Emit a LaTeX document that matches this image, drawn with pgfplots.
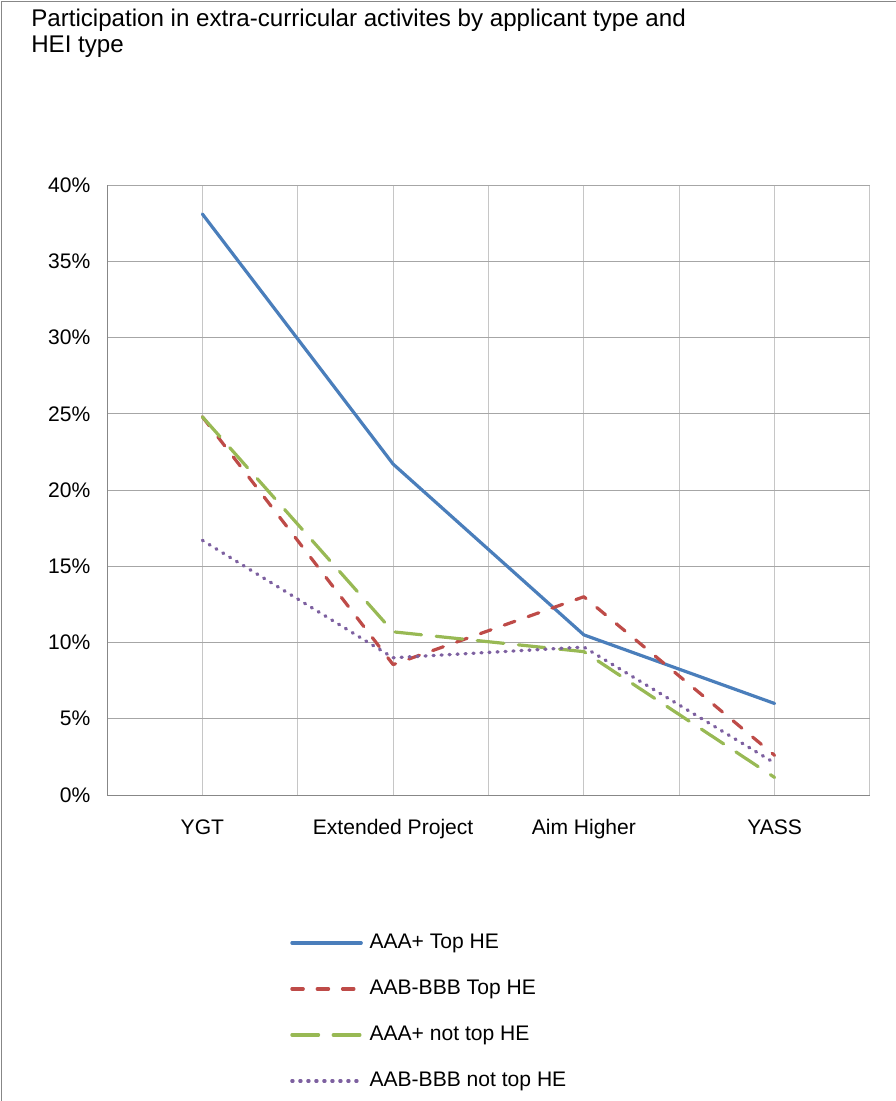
\documentclass[border=0pt]{standalone}
\usepackage{pgfplots}
\pgfplotsset{compat=1.18}
\usepackage{fontspec}
\setmainfont{Liberation Sans}
\definecolor{cBlue}{HTML}{4A7EBB}
\definecolor{cRed}{HTML}{BE4B48}
\definecolor{cGreen}{HTML}{98B954}
\definecolor{cPurple}{HTML}{7D60A0}
\definecolor{hgrid}{HTML}{A6A6A6}
\definecolor{vgrid}{HTML}{C6C6C6}
\definecolor{axline}{HTML}{878787}
\begin{document}
\begin{tikzpicture}
\path[use as bounding box] (0pt,0pt) rectangle (672pt,825.75pt);
\draw[axline, line width=0.75pt] (1.1pt,0pt) -- (1.1pt,824.6pt) -- (672pt,824.6pt);
\node[anchor=north west, align=left, inner sep=0pt, font=\fontsize{18.1pt}{19.5pt}\selectfont] at (23.25pt,819.5pt) {Participation in extra-curricular activites by applicant type and\\HEI type};
\begin{axis}[
  at={(80.25pt,229.5pt)}, anchor=south west,
  width=572.25pt, height=457.5pt, scale only axis,
  xmin=0, xmax=8, ymin=0, ymax=40,
  axis x line*=bottom, axis y line*=left,
  axis line style={axline, line width=0.75pt},
  xtick={1,3,5,7},
  xticklabels={YGT,Extended Project,Aim Higher,YASS},
  minor xtick={2,4,6,8},
  xmajorgrids, xminorgrids,
  ytick={0,5,...,40},
  yticklabels={0\%,5\%,10\%,15\%,20\%,25\%,30\%,35\%,40\%},
  ymajorgrids,
  major tick length=0pt, minor tick length=0pt,
  x grid style={vgrid, line width=0.75pt},
  minor x grid style={vgrid, line width=0.75pt},
  y grid style={hgrid, line width=0.75pt},
  tick label style={font=\fontsize{15.8pt}{18pt}\selectfont},
  yticklabel style={xshift=-9pt},
  xticklabel style={yshift=-15pt},
  legend style={at={(0.2398,-0.2262)}, anchor=north west, draw=none, fill=none,
    font=\fontsize{15.8pt}{18pt}\selectfont,
    inner sep=0pt, row sep=20pt,
    nodes={inner sep=0pt, text height=11.3pt, text depth=3.2pt},
    /tikz/every odd column/.append style={column sep=5pt}},
  legend cell align=left,
  legend image code/.code={\draw[#1] (0pt,0pt) -- (52pt,0pt);},
  every axis plot/.append style={line width=2.4pt, line cap=round, line join=round},
]
\addplot[cBlue] coordinates {(1,38.1) (3,21.7) (5,10.5) (7,6.0)};
\addlegendentry{AAA+ Top HE}
\addplot[cRed, dash pattern=on 8.5pt off 10.5pt] coordinates {(1,24.8) (3,8.55) (5,13.0) (7,2.6)};
\addlegendentry{AAB-BBB Top HE}
\addplot[cGreen, dash pattern=on 20pt off 11pt] coordinates {(1,24.8) (3,10.7) (5,9.4) (7,1.15)};
\addlegendentry{AAA+ not top HE}
\addplot[cPurple, line width=2.5pt, dash pattern=on 0.8pt off 5.2pt] coordinates {(1,16.7) (3,9.0) (5,9.7) (7,2.1)};
\addlegendentry{AAB-BBB not top HE}
\end{axis}
\end{tikzpicture}
\end{document}
